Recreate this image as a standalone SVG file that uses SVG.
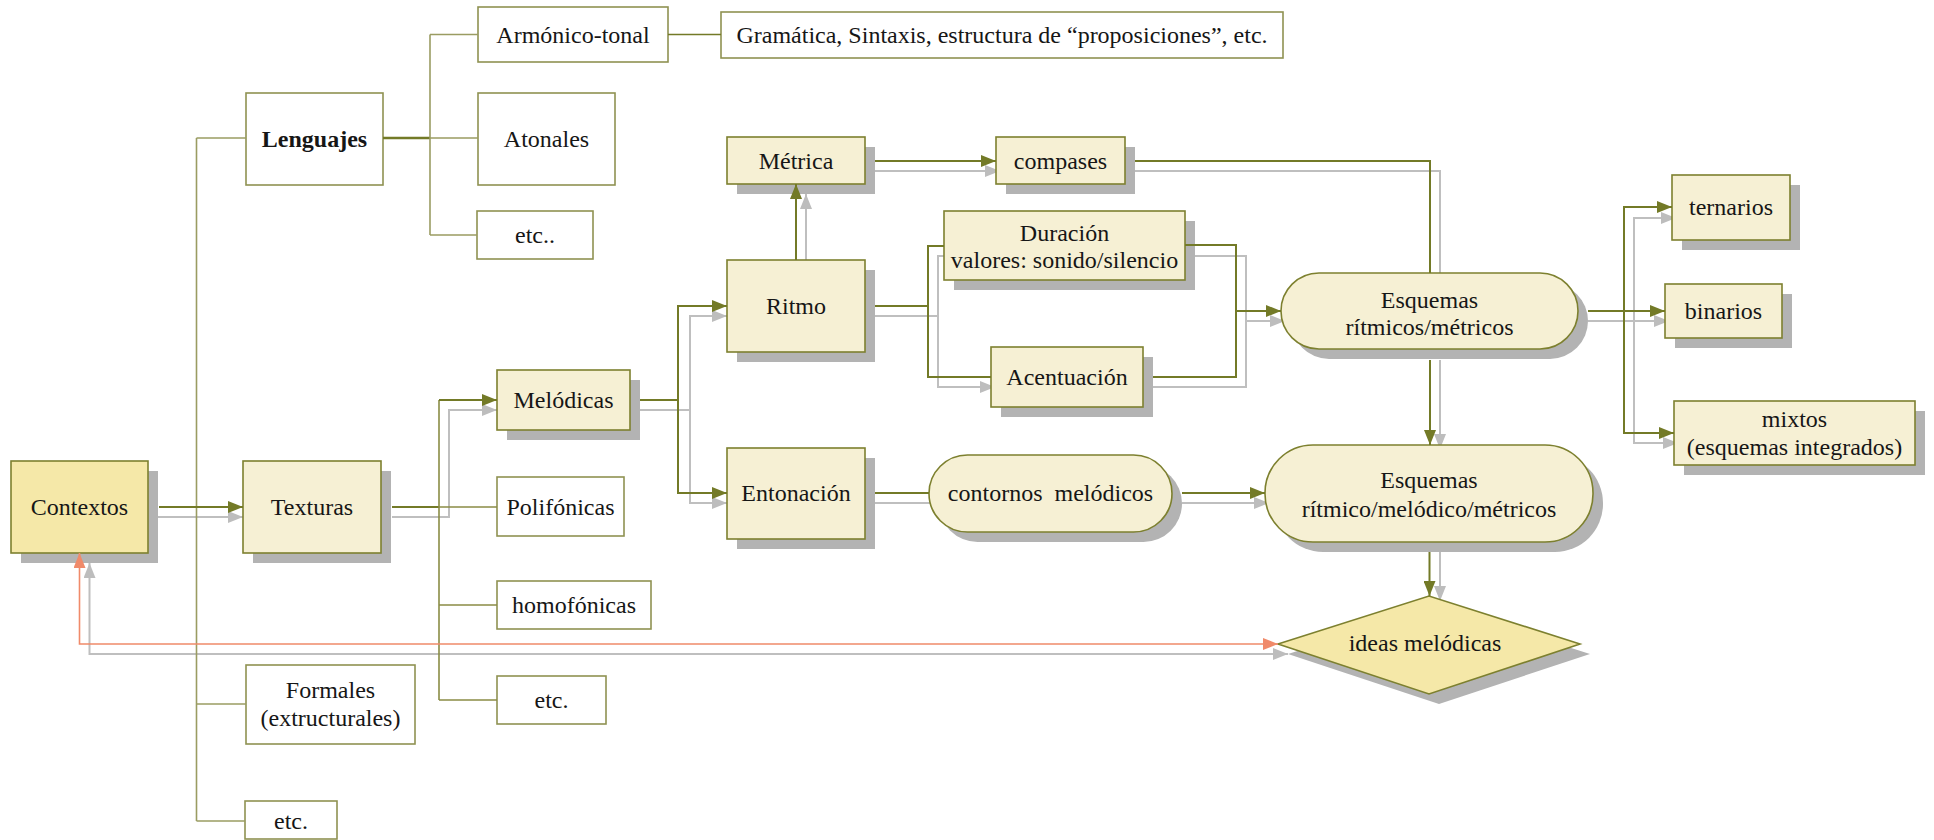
<svg xmlns="http://www.w3.org/2000/svg" width="1934" height="840" viewBox="0 0 1934 840">
<style>
.t{font-family:"Liberation Serif","Times New Roman",serif;font-size:24px;fill:#161616;text-anchor:middle}
.b{font-weight:bold}
.sh{fill:#b3b3b3}
.cr{fill:#f6f0d4;stroke:#7d802f;stroke-width:1.6}
.wh{fill:#ffffff;stroke:#8f9252;stroke-width:1.6}
.yl{fill:#f5e8a8;stroke:#7d802f;stroke-width:1.6}
.c{fill:none;stroke:#737a27;stroke-width:2}
.tr{fill:none;stroke:#9a9c62;stroke-width:1.6}
.g{fill:none;stroke:#bfbfbf;stroke-width:2}
.o{fill:none;stroke:#f08a6a;stroke-width:1.6}
</style>
<defs>
<marker id="ao" markerUnits="userSpaceOnUse" markerWidth="16" markerHeight="12" refX="15" refY="6" orient="auto-start-reverse"><path d="M0,0 L15,6 L0,12 z" fill="#737a27"/></marker>
<marker id="ag" markerUnits="userSpaceOnUse" markerWidth="16" markerHeight="12" refX="15" refY="6" orient="auto-start-reverse"><path d="M0,0 L15,6 L0,12 z" fill="#bdbdbd"/></marker>
<marker id="ar" markerUnits="userSpaceOnUse" markerWidth="16" markerHeight="12" refX="15" refY="6" orient="auto-start-reverse"><path d="M0,0 L15,6 L0,12 z" fill="#f08a6a"/></marker>
</defs>
<rect width="1934" height="840" fill="#ffffff"/>

<g id="connectors-shadow">
<path class="g" d="M148,517 H243" marker-end="url(#ag)"/>
<path class="g" d="M392,517 H449 V410 H497" marker-end="url(#ag)"/>
<path class="g" d="M640,410 H690 V316 H727" marker-end="url(#ag)"/>
<path class="g" d="M690,410 V503 H727" marker-end="url(#ag)"/>
<path class="g" d="M806,270 V194" marker-end="url(#ag)"/>
<path class="g" d="M875,171 H1000" marker-end="url(#ag)"/>
<path class="g" d="M1135,171 H1440 V283"/>
<path class="g" d="M875,316 H938 V256 H948"/>
<path class="g" d="M938,316 V387 H995" marker-end="url(#ag)"/>
<path class="g" d="M1195,256 H1246 V387 H1153"/>
<path class="g" d="M1246,321 H1285" marker-end="url(#ag)"/>
<path class="g" d="M875,503 H935"/>
<path class="g" d="M1182,503 H1269" marker-end="url(#ag)"/>
<path class="g" d="M1440,360 V449" marker-end="url(#ag)"/>
<path class="g" d="M1440,552 V601" marker-end="url(#ag)"/>
<path class="g" d="M1588,321 H1669" marker-end="url(#ag)"/>
<path class="g" d="M1634,321 V218 H1676" marker-end="url(#ag)"/>
<path class="g" d="M1634,321 V443 H1678" marker-end="url(#ag)"/>
<path class="g" d="M89.5,563 V654 H1288" marker-start="url(#ag)" marker-end="url(#ag)"/>
</g>

<g id="n-contextos"><rect class="sh" x="21" y="471" width="137" height="92"/><rect class="yl" x="11" y="461" width="137" height="92"/><text class="t" x="79.5" y="515">Contextos</text></g>
<g id="n-texturas"><rect class="sh" x="253" y="471" width="138" height="92"/><rect class="cr" x="243" y="461" width="138" height="92"/><text class="t" x="312" y="515">Texturas</text></g>
<g id="n-lenguajes"><rect class="wh" x="246" y="93" width="137" height="92"/><text class="t b" x="314.5" y="147">Lenguajes</text></g>
<g id="n-formales"><rect class="wh" x="246" y="665" width="169" height="79"/><text class="t" x="330.5" y="698">Formales</text><text class="t" x="330.5" y="726">(extructurales)</text></g>
<g id="n-etc-contextos"><rect class="wh" x="245" y="801" width="92" height="38"/><text class="t" x="291" y="829">etc.</text></g>
<g id="n-armonico"><rect class="wh" x="478" y="7" width="190" height="55"/><text class="t" x="573" y="43">Armónico-tonal</text></g>
<g id="n-gramatica"><rect class="wh" x="721" y="12" width="562" height="46"/><text class="t" x="1002" y="43">Gramática, Sintaxis, estructura de “proposiciones”, etc.</text></g>
<g id="n-atonales"><rect class="wh" x="478" y="93" width="137" height="92"/><text class="t" x="546.5" y="147">Atonales</text></g>
<g id="n-etc-lenguajes"><rect class="wh" x="477" y="211" width="116" height="48"/><text class="t" x="535" y="243">etc..</text></g>
<g id="n-melodicas"><rect class="sh" x="507" y="380" width="133" height="60"/><rect class="cr" x="497" y="370" width="133" height="60"/><text class="t" x="563.5" y="408">Melódicas</text></g>
<g id="n-polifonicas"><rect class="wh" x="497" y="477" width="127" height="59"/><text class="t" x="560.5" y="515">Polifónicas</text></g>
<g id="n-homofonicas"><rect class="wh" x="497" y="581" width="154" height="48"/><text class="t" x="574" y="613">homofónicas</text></g>
<g id="n-etc-texturas"><rect class="wh" x="497" y="676" width="109" height="48"/><text class="t" x="551.5" y="708">etc.</text></g>
<g id="n-metrica"><rect class="sh" x="737" y="147" width="138" height="47"/><rect class="cr" x="727" y="137" width="138" height="47"/><text class="t" x="796" y="169">Métrica</text></g>
<g id="n-compases"><rect class="sh" x="1006" y="147" width="129" height="47"/><rect class="cr" x="996" y="137" width="129" height="47"/><text class="t" x="1060.5" y="169">compases</text></g>
<g id="n-ritmo"><rect class="sh" x="737" y="270" width="138" height="92"/><rect class="cr" x="727" y="260" width="138" height="92"/><text class="t" x="796" y="314">Ritmo</text></g>
<g id="n-duracion"><rect class="sh" x="954" y="221" width="241" height="69"/><rect class="cr" x="944" y="211" width="241" height="69"/><text class="t" x="1064.5" y="241">Duración</text><text class="t" x="1064.5" y="268">valores: sonido/silencio</text></g>
<g id="n-acentuacion"><rect class="sh" x="1001" y="357" width="152" height="60"/><rect class="cr" x="991" y="347" width="152" height="60"/><text class="t" x="1067" y="385">Acentuación</text></g>
<g id="n-entonacion"><rect class="sh" x="737" y="458" width="138" height="91"/><rect class="cr" x="727" y="448" width="138" height="91"/><text class="t" x="796" y="501">Entonación</text></g>
<g id="n-contornos"><rect class="sh" x="939" y="465" width="243" height="77" rx="38.5"/><rect class="cr" x="929" y="455" width="243" height="77" rx="38.5"/><text class="t" x="1050.5" y="501" xml:space="preserve">contornos  melódicos</text></g>
<g id="n-esquemas-rm"><rect class="sh" x="1291" y="283" width="297" height="76" rx="38"/><rect class="cr" x="1281" y="273" width="297" height="76" rx="38"/><text class="t" x="1429.5" y="308">Esquemas</text><text class="t" x="1429.5" y="335">rítmicos/métricos</text></g>
<g id="n-esquemas-rmm"><rect class="sh" x="1275" y="455" width="328" height="97" rx="48"/><rect class="cr" x="1265" y="445" width="328" height="97" rx="48"/><text class="t" x="1429" y="488">Esquemas</text><text class="t" x="1429" y="517">rítmico/melódico/métricos</text></g>
<g id="n-ideas"><polygon class="sh" points="1288,654 1439,606 1590,654 1439,704"/><polygon class="yl" points="1278,644 1429,596 1580,644 1429,694"/><text class="t" x="1425" y="651">ideas melódicas</text></g>
<g id="n-ternarios"><rect class="sh" x="1682" y="185" width="118" height="65"/><rect class="cr" x="1672" y="175" width="118" height="65"/><text class="t" x="1731" y="215">ternarios</text></g>
<g id="n-binarios"><rect class="sh" x="1675" y="294" width="117" height="54"/><rect class="cr" x="1665" y="284" width="117" height="54"/><text class="t" x="1723.5" y="319">binarios</text></g>
<g id="n-mixtos"><rect class="sh" x="1684" y="411" width="241" height="64"/><rect class="cr" x="1674" y="401" width="241" height="64"/><text class="t" x="1794.5" y="427">mixtos</text><text class="t" x="1794.5" y="455">(esquemas integrados)</text></g>

<g id="connectors">
<path class="tr" d="M196.5,138 V821"/>
<path class="tr" d="M196.5,138 H246"/>
<path class="tr" d="M196.5,704 H246"/>
<path class="tr" d="M196.5,821 H245"/>
<path class="c" d="M383,138 H430" style="stroke-width:2.6"/>
<path class="tr" d="M430,34.5 V235"/>
<path class="tr" d="M430,34.5 H478 M430,138 H478 M430,235 H477"/>
<path class="c" d="M668,34.5 H721" style="stroke-width:1.6"/>
<path class="c" d="M159,507 H243" marker-end="url(#ao)"/>
<path class="c" d="M392,507 H439"/>
<path class="tr" d="M439,400 V700" style="stroke:#8a8c45"/>
<path class="c" d="M439,400 H497" marker-end="url(#ao)"/>
<path class="tr" d="M439,507 H497 M439,605 H497 M439,700 H497" style="stroke:#8a8c45"/>
<path class="c" d="M640,400 H678 V306 H727" marker-end="url(#ao)"/>
<path class="c" d="M678,400 V493 H727" marker-end="url(#ao)"/>
<path class="c" d="M796,260 V184" marker-end="url(#ao)"/>
<path class="c" d="M875,161 H996" marker-end="url(#ao)"/>
<path class="c" d="M1135,161 H1430 V273"/>
<path class="c" d="M875,306 H928 V246 H944"/>
<path class="c" d="M928,306 V377 H991"/>
<path class="c" d="M1185,245 H1236 V377 H1153"/>
<path class="c" d="M1236,311 H1281" marker-end="url(#ao)"/>
<path class="c" d="M875,493 H929"/>
<path class="c" d="M1182,493 H1265" marker-end="url(#ao)"/>
<path class="c" d="M1430,360 V445" marker-end="url(#ao)"/>
<path class="c" d="M1429.5,552 V596" marker-end="url(#ao)"/>
<path class="c" d="M1588,311 H1665" marker-end="url(#ao)"/>
<path class="c" d="M1624,311 V207 H1672" marker-end="url(#ao)"/>
<path class="c" d="M1624,311 V433 H1674" marker-end="url(#ao)"/>
<path class="o" d="M79.5,553 V644 H1278" marker-start="url(#ar)" marker-end="url(#ar)"/>
</g>
</svg>
